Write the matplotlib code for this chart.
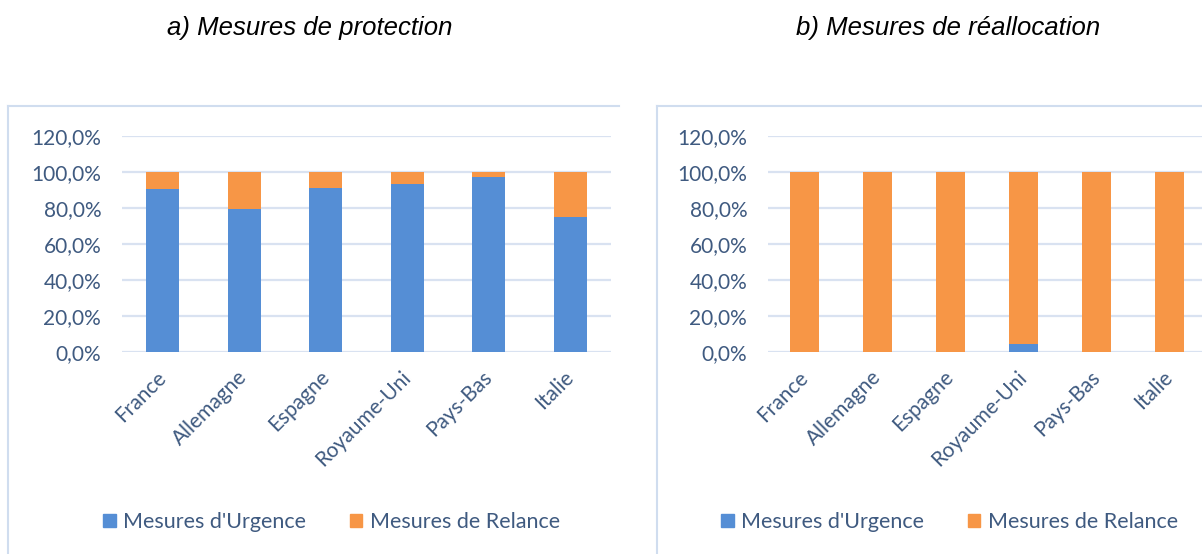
import numpy as np
import matplotlib.pyplot as plt
from matplotlib.lines import Line2D
from matplotlib.patches import Patch
from matplotlib.ticker import FuncFormatter

# Données (parts en %)
pays = ["France", "Allemagne", "Espagne", "Royaume-Uni", "Pays-Bas", "Italie"]
protection_urgence = [90.4, 79.6, 90.9, 93.1, 97.4, 75.2]
protection_relance = [9.6, 20.4, 9.1, 6.9, 2.6, 24.8]
reallocation_urgence = [0.0, 0.0, 0.0, 4.6, 0.0, 0.0]
reallocation_relance = [100.0, 100.0, 100.0, 95.4, 100.0, 100.0]
titres = ["a) Mesures de protection", "b) Mesures de réallocation"]

BLEU = "#558ED5"
ORANGE = "#F79646"
TEXTE = "#3F5A80"
GRILLE = "#D9E2F1"
CADRE = "#D0DDEF"
W, H = 1202, 554

fig = plt.figure(figsize=(W / 100, H / 100), dpi=100)


def fx(px):
    return px / W


def fy(py):
    return 1 - py / H


def pct(v, _):
    return f"{v:.1f}".replace(".", ",") + "%"


def panneau(rect, urgence, relance, titre, titre_x, leg_x):
    ax = fig.add_axes(rect)
    x = np.arange(len(pays))
    ax.bar(x, urgence, width=0.41, color=BLEU, zorder=3)
    ax.bar(x, relance, width=0.41, bottom=urgence, color=ORANGE, zorder=3)
    ax.set_xlim(-0.5, len(pays) - 0.5)
    ax.set_ylim(0, 120)
    ax.set_yticks(np.arange(0, 121, 20))
    ax.yaxis.set_major_formatter(FuncFormatter(pct))
    ax.grid(axis="y", color=GRILLE, linewidth=1.6, zorder=0)
    for s in ax.spines.values():
        s.set_visible(False)
    ax.tick_params(length=0, labelsize=15, labelcolor=TEXTE)
    ax.tick_params(axis="y", pad=15)
    ax.set_xticks(x)
    ax.set_xticklabels(pays, rotation=45, ha="right", va="center",
                       rotation_mode="anchor", family="Lato")
    ax.tick_params(axis="x", pad=16)
    for lab in ax.get_yticklabels():
        lab.set_family("Lato")
    fig.text(fx(titre_x), fy(28), titre, ha="center", va="center",
             fontsize=18.5, style="italic", family="Liberation Sans")
    handles = [Patch(color=BLEU, label="Mesures d'Urgence"),
               Patch(color=ORANGE, label="Mesures de Relance")]
    fig.legend(handles=handles, loc="center left",
               bbox_to_anchor=(fx(leg_x), fy(522)), ncol=2, frameon=False,
               prop={"family": "Lato", "size": 15.5}, labelcolor=TEXTE,
               handlelength=0.6, handleheight=0.6, handletextpad=0.35,
               columnspacing=2.0, borderpad=0, borderaxespad=0)
    return ax


panneau([fx(122), fy(352), fx(611 - 122), fy(136) - fy(352)],
        protection_urgence, protection_relance, titre=titres[0],
        titre_x=310, leg_x=103)
panneau([fx(768), fy(352), fx(1206 - 768), fy(136) - fy(352)],
        reallocation_urgence, reallocation_relance, titre=titres[1],
        titre_x=948, leg_x=721)

# cadres des graphiques
for x0, x1 in [(8, 619), (657, 1202)]:
    fig.add_artist(Line2D([fx(x0), fx(x1)], [fy(105.5), fy(105.5)],
                          color=CADRE, linewidth=1.5))
    fig.add_artist(Line2D([fx(x0), fx(x0)], [fy(105.5), 0],
                          color=CADRE, linewidth=1.5))

fig.savefig("out.png", dpi=100)
